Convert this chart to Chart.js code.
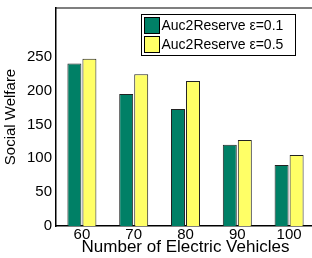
<!DOCTYPE html>
<html>
<head>
<meta charset="utf-8">
<script src="https://cdn.jsdelivr.net/npm/chart.js@4"></script>
<style>
  html, body { margin: 0; padding: 0; background: #fff; overflow: hidden; }
  #wrap { width: 320px; height: 258px; }
</style>
</head>
<body>
<div id="wrap"><canvas id="welfare" width="320" height="258"></canvas></div>
<script>
const vehicles = ['60', '70', '80', '90', '100'];
const eps01 = [240, 195, 173, 120, 90];
const eps05 = [247, 224, 214, 127, 105];
const yTicks = [0, 50, 100, 150, 200, 250];

const font = "'Liberation Sans', Arial, Helvetica, sans-serif";

// matlab style legend box plus the top frame line
const boxLegend = {
    id: 'boxLegend',
    afterDraw(chart) {
        const ctx = chart.ctx;
        const area = chart.chartArea;
        ctx.save();
        // the right side of the frame is cut off in the original
        ctx.fillStyle = '#fff';
        ctx.fillRect(306, area.top + 1, 14, area.bottom - area.top - 2);
        ctx.strokeStyle = '#000';
        ctx.lineWidth = 1.2;
        ctx.beginPath();
        ctx.moveTo(area.left, area.top);
        ctx.lineTo(area.right, area.top);
        ctx.stroke();

        const x = 141.5, y = 14.5, w = 154, h = 41;
        ctx.fillStyle = '#fff';
        ctx.fillRect(x, y, w, h);
        ctx.lineWidth = 1;
        ctx.strokeRect(x, y, w, h);
        ctx.font = '14px ' + font;
        ctx.textBaseline = 'middle';
        chart.data.datasets.forEach((ds, i) => {
            const sy = y + 3 + i * 19;
            ctx.fillStyle = ds.backgroundColor;
            ctx.fillRect(x + 3, sy, 15, 16);
            ctx.strokeStyle = '#000';
            ctx.strokeRect(x + 3, sy, 15, 16);
            ctx.fillStyle = '#000';
            ctx.fillText(ds.label, x + 20, sy + 9);
        });
        ctx.restore();
    }
};

new Chart(document.getElementById('welfare'), {
    type: 'bar',
    data: {
        labels: vehicles,
        datasets: [{
            label: 'Auc2Reserve \u03b5=0.1',
            data: eps01,
            backgroundColor: '#008066',
            borderColor: '#222',
            borderWidth: 1,
            categoryPercentage: 0.58,
            barPercentage: 0.93
        }, {
            label: 'Auc2Reserve \u03b5=0.5',
            data: eps05,
            backgroundColor: '#ffff66',
            borderColor: '#222',
            borderWidth: 1,
            categoryPercentage: 0.58,
            barPercentage: 0.93
        }]
    },
    options: {
        responsive: false,
        animation: false,
        layout: { padding: { top: 8, right: 5, left: 0, bottom: 0 } },
        plugins: {
            legend: { display: false },
            tooltip: { enabled: false }
        },
        scales: {
            x: {
                grid: { display: false, drawTicks: false },
                border: { display: true, color: '#000', width: 1.5 },
                ticks: { color: '#000', font: { family: font, size: 15, lineHeight: 1.2 }, padding: 0, maxRotation: 0 },
                title: { display: true, text: 'Number of Electric Vehicles', color: '#000', font: { family: font, size: 17 }, padding: 0 },
                afterFit(scale) { scale.height = 32; }
            },
            y: {
                min: 0,
                max: 322,
                grid: { display: false, drawTicks: false },
                border: { display: true, color: '#000', width: 1.5 },
                afterBuildTicks(scale) { scale.ticks = yTicks.map(v => ({ value: v })); },
                ticks: { color: '#000', font: { family: font, size: 15 }, padding: 4 },
                title: { display: true, text: 'Social Welfare', color: '#000', font: { family: font, size: 15 }, padding: { top: 2, bottom: 0 } },
                afterFit(scale) { scale.width = 56; scale.paddingTop = 0; scale.paddingBottom = 0; }
            }
        }
    },
    plugins: [boxLegend]
});
</script>
</body>
</html>
